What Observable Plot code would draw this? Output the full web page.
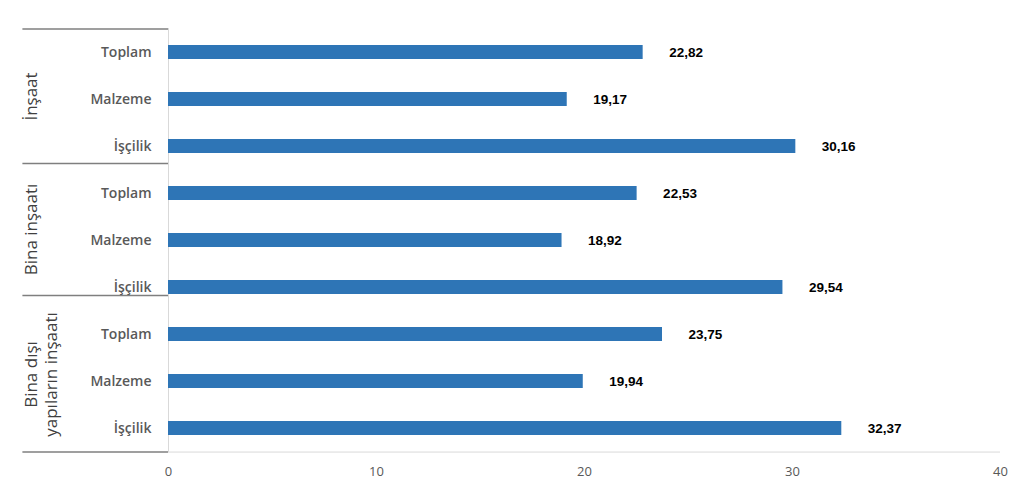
<!DOCTYPE html>
<html><head><meta charset="utf-8">
<script src="https://cdn.jsdelivr.net/npm/d3@7"></script>
<script src="https://cdn.jsdelivr.net/npm/@observablehq/plot@0.6"></script>
<style>body{margin:0;background:#fff}</style>
</head><body><div id="chart"></div>
<script>
const groups = ["İnşaat", "Bina inşaatı", "Bina dışı\nyapıların inşaatı"];
const items = ["Toplam", "Malzeme", "İşçilik"];
const insaat = [22.82, 19.17, 30.16];
const binaInsaati = [22.53, 18.92, 29.54];
const binaDisi = [23.75, 19.94, 32.37];
const xTicks = [0, 10, 20, 30, 40];

const series = [insaat, binaInsaati, binaDisi];
const rows = [];
groups.forEach((g, gi) => items.forEach((it, ii) =>
  rows.push({group: g, item: it, key: gi + "|" + it, value: series[gi][ii]})));
const keys = rows.map(d => d.key);
const fmt = v => v.toFixed(2).replace(".", ",");

const W = 1024, H = 497, mT = 28, mB = 45, mL = 168, mR = 24;
const step = (H - mT - mB) / keys.length;

const sepStyle = {x1: -7, x2: 0, stroke: "#7f7f7f", strokeWidth: 1.5};
const groupDy = [-3, -11, -7];

const chart = Plot.plot({
  width: W, height: H,
  marginTop: mT, marginBottom: mB, marginLeft: mL, marginRight: mR,
  style: {fontFamily: "'Open Sans', sans-serif", fontSize: "13px", background: "#fff"},
  x: {domain: [0, 40], axis: null},
  y: {domain: keys, paddingInner: 0.7, paddingOuter: 0.35, axis: null},
  marks: [
    Plot.ruleX([0], {stroke: "#d9d9d9"}),
    Plot.ruleY([keys[keys.length - 1]], {x1: 0, x2: 40, dy: step / 2, stroke: "#d9d9d9"}),
    Plot.ruleY([keys[0]], {...sepStyle, dy: -step / 2}),
    Plot.ruleY([keys[2]], {...sepStyle, dy: 17}),
    Plot.ruleY([keys[5]], {...sepStyle, dy: 8}),
    Plot.ruleY([keys[8]], {...sepStyle, dy: step / 2}),
    Plot.barX(rows, {x: "value", y: "key", fill: "#2e75b6"}),
    Plot.text(rows, {x: "value", y: "key", text: d => fmt(d.value), textAnchor: "start", dx: 26,
      fontFamily: "'Liberation Sans', Arial, sans-serif", fontWeight: "bold", fontSize: 13.5, fill: "#000"}),
    Plot.axisY({tickSize: 0, tickPadding: 17, tickFormat: k => k.split("|")[1], label: null,
      fontSize: 14, fontWeight: 600, fill: "#595959"}),
    Plot.axisX({ticks: xTicks, tickSize: 0, tickPadding: 14, fontSize: 13, fill: "#595959", label: null}),
    ...groups.map((g, gi) => Plot.text([g], {
      y: [keys[gi * 3 + 1]], text: d => d, frameAnchor: "left", dx: -146, dy: groupDy[gi],
      rotate: -90, lineAnchor: "top", textAnchor: "middle", fontSize: 17, fill: "#404040", lineHeight: 1.2
    }))
  ]
});
document.getElementById("chart").append(chart);
</script>
</body></html>
